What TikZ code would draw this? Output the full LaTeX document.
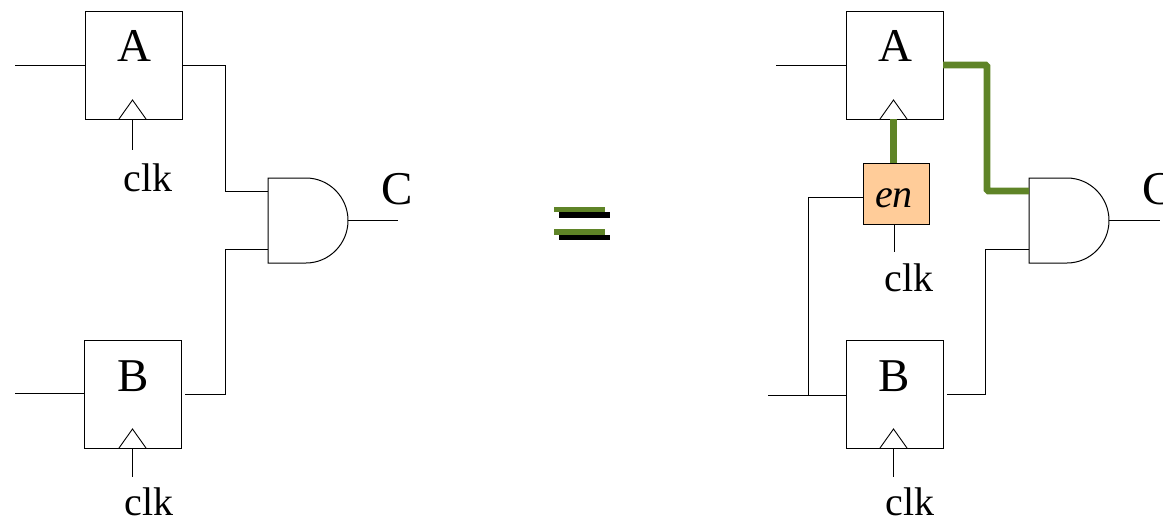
\documentclass[tikz,border=0pt]{standalone}
\usepackage{fontspec}
\setmainfont{Liberation Serif}
\definecolor{wiregreen}{HTML}{5F8427}
\definecolor{enfill}{HTML}{FFCC99}
\tikzset{
  ffbox/.style={draw=black,line width=0.9pt,minimum width=97pt,minimum height=108pt,inner sep=0pt,outer sep=0pt},
  enbox/.style={draw=black,line width=0.9pt,fill=enfill,minimum width=66pt,minimum height=60.7pt,inner sep=0pt,outer sep=0pt},
  wire/.style={draw=black,line width=0.9pt},
  gwire/.style={draw=wiregreen,line width=6.8pt,rounded corners=1.5pt},
  gate/.style={draw=black,line width=1pt},
  big/.style={font=\fontsize{47}{47}\selectfont,inner sep=0pt,anchor=base},
  small/.style={font=\fontsize{40}{40}\selectfont,inner sep=0pt,anchor=base}
}
\begin{document}
\begin{tikzpicture}[x=1pt,y=-1pt]
\useasboundingbox (0,0) rectangle (1163,519);
% left flip-flops
\node[ffbox] (A1) at (133.5,65) {};
\node[ffbox] (B1) at (133.3,394) {};
\node[big] (A1t) at (134.5,62) {A};
\node[big] (B1t) at (133.5,391) {B};
\draw[wire] (119,119) -- (132.5,100) -- (146,119);
\draw[wire] (119,448) -- (132.5,429) -- (146,448);
\coordinate (A1in) at (15,65);
\coordinate (B1in) at (15,393);
\coordinate (A1c) at (132,119);
\coordinate (A1ce) at (132,150);
\coordinate (B1c) at (132,448);
\coordinate (B1ce) at (132,477);
\node[small] (clk1) at (148,191) {clk};
\node[small] (clk2) at (149,515) {clk};
% left gate
\coordinate (G1t) at (268,178);
\coordinate (G1b) at (268,263);
\coordinate (G1o) at (348,220.5);
\coordinate (G1a) at (268,191);
\coordinate (G1c) at (268,249);
\coordinate (C1e) at (398,220.5);
\coordinate (B1o) at (185,394);
\draw[gate] (G1t) -- (G1b) -- (306,263) .. controls (329,263) and (348,244) .. (G1o) .. controls (348,197) and (329,178) .. (306,178) -- cycle;
\node[big] (C1t) at (397,204) {C};
\draw[wire] (A1in) -- (A1.west);
\draw[wire] (B1in) -- (B1.west |- B1in);
\draw[wire] (A1c) -- (A1ce);
\draw[wire] (B1c) -- (B1ce);
\draw[wire] (A1.east) -| (225,191) -- (G1a);
\draw[wire] (B1o) -| (225,249) -- (G1c);
\draw[wire] (G1o) -- (C1e);
% equals sign
\fill[wiregreen] (553.5,206.8) rectangle (605,212);
\fill[black] (558.5,212) rectangle (610,217.5);
\fill[wiregreen] (553.5,229) rectangle (605,234.5);
\fill[black] (558.5,234.5) rectangle (610,239.8);
% right flip-flops
\node[ffbox] (A2) at (894.7,65) {};
\node[ffbox] (B2) at (894.7,394) {};
\node[big] (A2t) at (895.5,62) {A};
\node[big] (B2t) at (894.5,391) {B};
\node[enbox] (En) at (896.3,193.7) {};
\node[small] (Ent) at (894,207) {\itshape en};
\draw[wire] (880,119) -- (893.5,100) -- (907,119);
\draw[wire] (880,448) -- (893.5,429) -- (907,448);
\coordinate (A2in) at (776,65);
\coordinate (B2in) at (768,395);
\coordinate (B2j) at (808,395);
\coordinate (B2c) at (893.5,448);
\coordinate (B2ce) at (893.5,477);
\coordinate (Enc) at (894,224);
\coordinate (Ence) at (894,252);
\coordinate (Enin) at (863.3,197);
\coordinate (A2c) at (893.5,119);
\coordinate (Eno) at (893.5,163.3);
\node[small] (clk3) at (909,291) {clk};
\node[small] (clk4) at (910,515) {clk};
% right gate
\coordinate (G2t) at (1029,178);
\coordinate (G2b) at (1029,263);
\coordinate (G2o) at (1109,220.5);
\coordinate (G2a) at (1029,191);
\coordinate (G2c) at (1029,249);
\coordinate (C2e) at (1160,220.5);
\coordinate (B2o) at (947,394);
\draw[gate] (G2t) -- (G2b) -- (1067,263) .. controls (1090,263) and (1109,244) .. (G2o) .. controls (1109,197) and (1090,178) .. (1067,178) -- cycle;
\node[big] (C2t) at (1158.5,204) {C};
\draw[wire] (A2in) -- (A2.west);
\draw[wire] (B2in) -- (B2.west |- B2in);
\draw[wire] (Enin) -| (B2j);
\draw[wire] (B2c) -- (B2ce);
\draw[wire] (Enc) -- (Ence);
\draw[wire] (B2o) -| (985,249) -- (G2c);
\draw[wire] (G2o) -- (C2e);
\draw[gwire] (A2.east) -| (987,191) -- (G2a);
\draw[gwire] (A2c) -- (Eno);
\end{tikzpicture}
\end{document}
